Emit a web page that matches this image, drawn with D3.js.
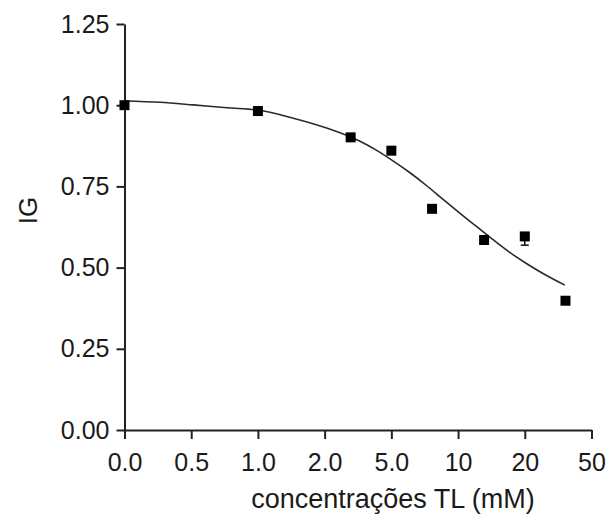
<!DOCTYPE html>
<html>
<head>
<meta charset="utf-8">
<script src="https://cdn.jsdelivr.net/npm/d3@7"></script>
<style>
  html, body { margin: 0; padding: 0; background: #fff; }
  svg { display: block; }
  text { font-family: "Liberation Sans", Arial, sans-serif; fill: #1a1a1a; }
</style>
</head>
<body>
<script>
// X axis: concentration categories, equally spaced (position index 0..7)
const tickLabels = ["0.0", "0.5", "1.0", "2.0", "5.0", "10", "20", "50"];
const yTicks = [0, 0.25, 0.5, 0.75, 1.0, 1.25];

// Measured germination index (IG), x given as position on the axis
const pointX = [0, 2.0, 3.39, 4.0, 4.61, 5.39, 6.0, 6.61];
const pointIG = [1.00, 0.982, 0.901, 0.860, 0.681, 0.585, 0.596, 0.398];
const pointErr = [0.004, 0.004, 0.006, 0.006, 0.008, 0.010, 0.027, 0.008];

// Fitted dose-response curve
const fitX = [0.00, 0.53, 1.03, 1.54, 2.00, 2.53, 3.04, 3.38, 3.53, 3.78, 4.03, 4.28, 4.53, 4.78, 5.03, 5.28, 5.53, 5.78, 6.03, 6.28, 6.60];
const fitIG = [1.013, 1.009, 1.001, 0.992, 0.985, 0.960, 0.929, 0.903, 0.889, 0.861, 0.828, 0.792, 0.752, 0.709, 0.667, 0.626, 0.585, 0.546, 0.512, 0.481, 0.446];

const W = 612, H = 515;
const svg = d3.select("body").append("svg").attr("width", W).attr("height", H);

const x = d3.scaleLinear().domain([0, 7]).range([124.5, 591.5]);
const y = d3.scaleLinear().domain([0, 1.25]).range([430, 24]);

// Axes
const xAxis = d3.axisBottom(x)
  .tickValues(d3.range(tickLabels.length))
  .tickFormat(i => tickLabels[i])
  .tickSize(9).tickSizeOuter(0).tickPadding(14);
const yAxis = d3.axisLeft(y)
  .tickValues(yTicks)
  .tickFormat(d3.format(".2f"))
  .tickSize(8).tickSizeOuter(0).tickPadding(7);

const gx = svg.append("g").attr("transform", "translate(0,430)").call(xAxis);
const gy = svg.append("g").attr("transform", "translate(124.5,0)").call(yAxis);

[gx, gy].forEach(g => {
  g.selectAll("path, line").attr("stroke", "#222").attr("stroke-width", 2);
  g.selectAll("text").attr("font-size", 25).attr("fill", "#1a1a1a")
    .style("font-family", '"Liberation Sans", Arial, sans-serif');
});

// Axis titles
svg.append("text")
  .attr("x", 393).attr("y", 508)
  .attr("text-anchor", "middle")
  .attr("font-size", 27)
  .text("concentrações TL (mM)");

svg.append("text")
  .attr("transform", "translate(36.5,210.5) rotate(-90)")
  .attr("text-anchor", "middle")
  .attr("font-size", 26)
  .text("IG");

// Fitted curve
const line = d3.line()
  .x((d, i) => x(fitX[i]))
  .y(d => y(d))
  .curve(d3.curveMonotoneX);

svg.append("path")
  .datum(fitIG)
  .attr("d", line)
  .attr("fill", "none")
  .attr("stroke", "#2a2a2a")
  .attr("stroke-width", 1.6);

// Error bars (below)
const pts = pointX.map((px, i) => ({ x: px, v: pointIG[i], e: pointErr[i] }));
const eb = svg.append("g").attr("stroke", "#111").attr("stroke-width", 1.5);
eb.selectAll("line.stem").data(pts).join("line")
  .attr("class", "stem")
  .attr("x1", d => x(d.x)).attr("x2", d => x(d.x))
  .attr("y1", d => y(d.v)).attr("y2", d => y(d.v - d.e));
eb.selectAll("line.cap").data(pts).join("line")
  .attr("class", "cap")
  .attr("x1", d => x(d.x) - 4).attr("x2", d => x(d.x) + 4)
  .attr("y1", d => y(d.v - d.e)).attr("y2", d => y(d.v - d.e));

// Square markers
const S = 10;
svg.append("g").selectAll("rect").data(pts).join("rect")
  .attr("x", d => x(d.x) - S / 2)
  .attr("y", d => y(d.v) - S / 2)
  .attr("width", S).attr("height", S)
  .attr("fill", "#000");
</script>
</body>
</html>
